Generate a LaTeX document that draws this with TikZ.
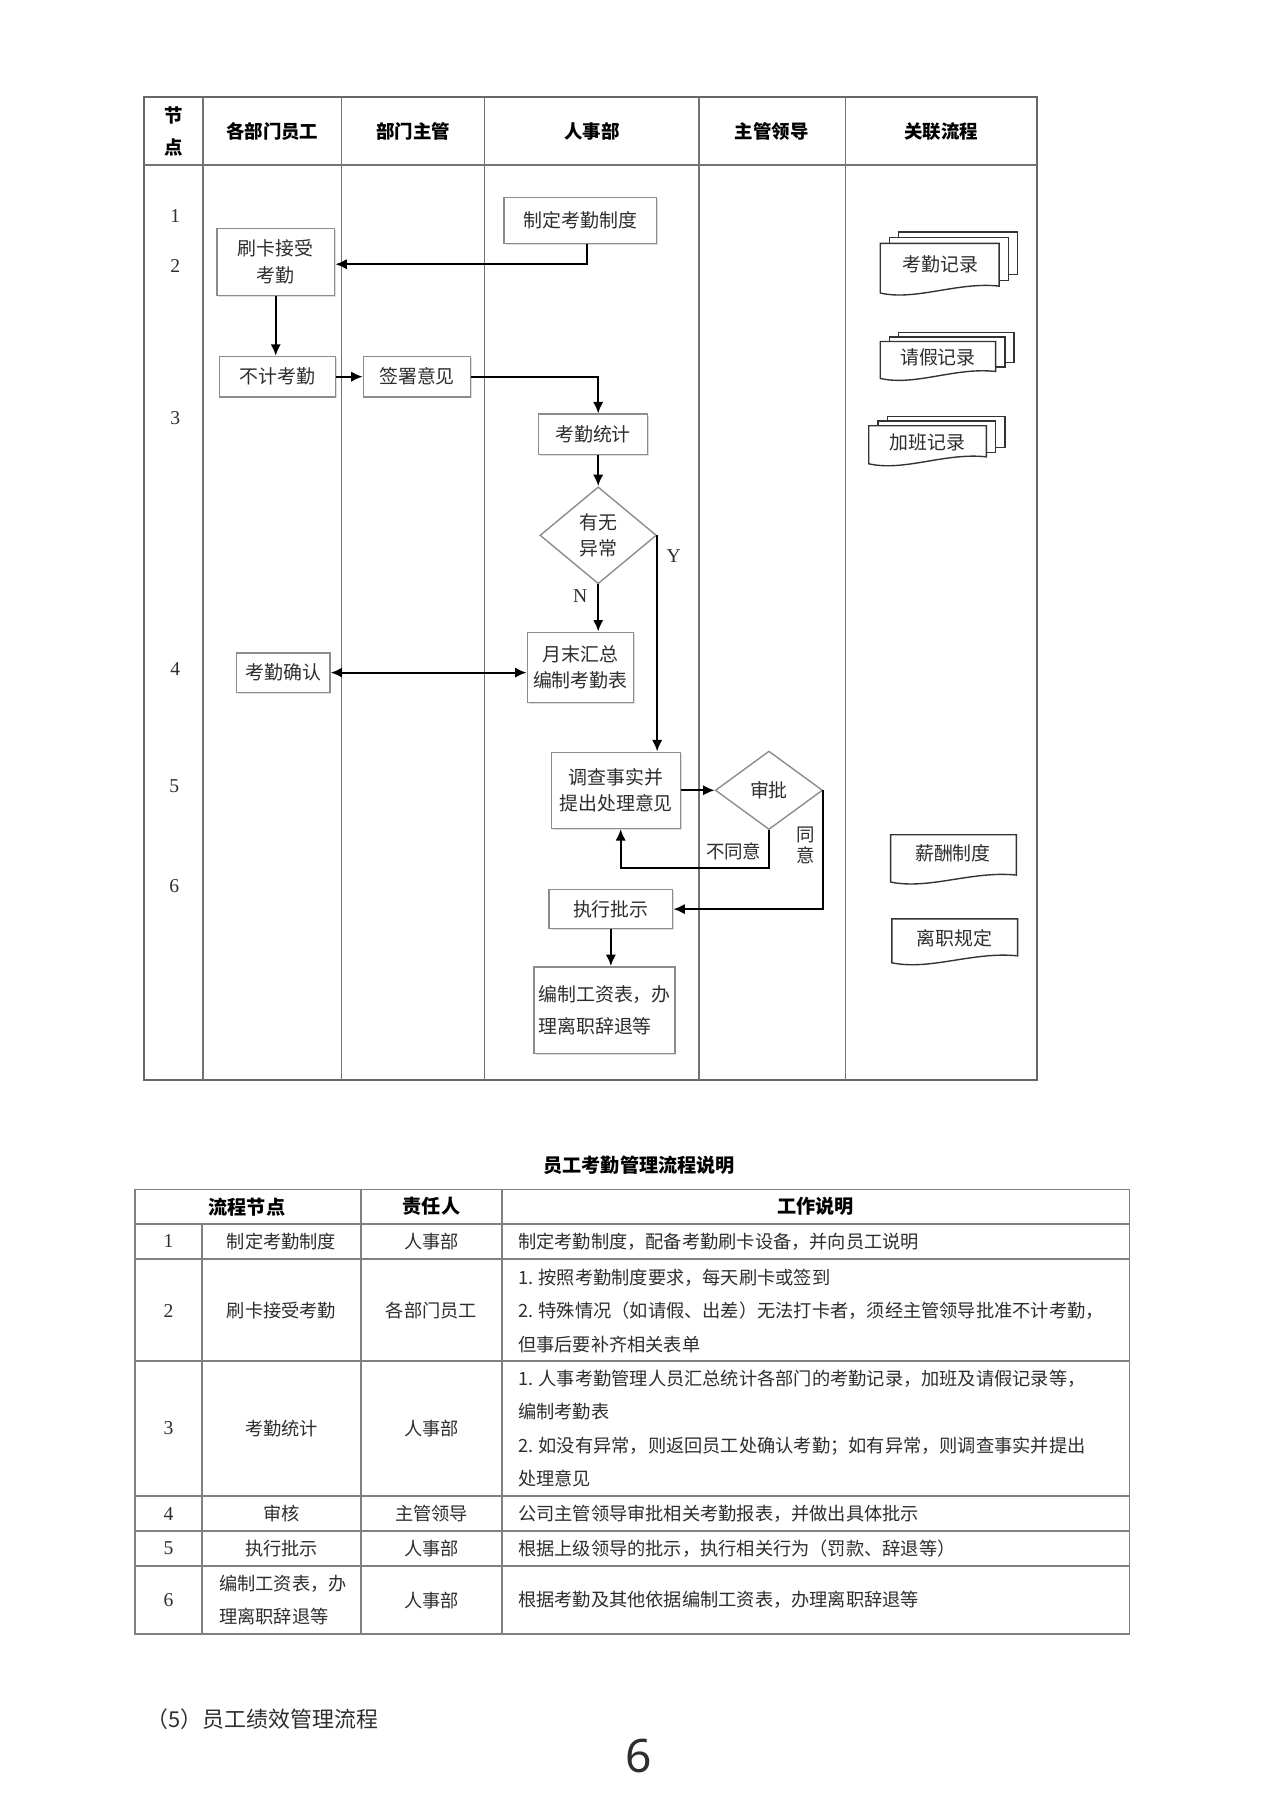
\documentclass[tikz,border=0pt]{standalone}
\usepackage{fontspec}
\setmainfont{Noto Sans CJK SC}
\newfontfamily\numfont{Liberation Serif}
\newfontfamily\pgfont{Noto Sans}
\usetikzlibrary{shapes.geometric,arrows.meta,shadows,calc}
\newcommand\docsheet[4]{\draw[docline] (#1,#2) -- ({#1+#3},#2) -- ({#1+#3},{#2+#4-6}) .. controls ({#1+0.65*#3},{#2+#4-10}) and ({#1+0.3*#3},{#2+#4+7}) .. (#1,{#2+#4}) -- cycle;}
\newcommand\backsheet[4]{\draw[docline] (#1,#2) rectangle ({#1+#3},{#2+#4-6});}
\begin{document}
\begin{tikzpicture}[x=0.5pt,y=-0.5pt,
  every node/.style={font=\fontsize{8pt}{10pt}\selectfont, text=black!82},
  box/.style={draw=black!45, line width=0.6pt, fill=white, inner sep=1pt, align=center,
    font=\fontsize{8.2pt}{11.5pt}\selectfont,
    drop shadow={shadow xshift=0.6pt,shadow yshift=-0.6pt,fill=black!25,opacity=0.5}},
  dia/.style={diamond, draw=black!45, line width=0.6pt, fill=white, inner sep=0pt, aspect=1.2, align=center,
    font=\fontsize{8.2pt}{11.5pt}\selectfont},
  arr/.style={-{Latex[length=5pt,width=4.5pt]}, line width=0.9pt, draw=black},
  darr/.style={{Latex[length=5pt,width=4.5pt]}-{Latex[length=5pt,width=4.5pt]}, line width=0.9pt, draw=black},
  lane/.style={draw=black!55, line width=0.6pt},
  frame/.style={draw=black!60, line width=0.8pt},
  tline/.style={draw=black!50, line width=0.8pt},
  hdr/.style={font=\bfseries\fontsize{8pt}{14pt}\selectfont, text=black},
  num/.style={font=\numfont\fontsize{8.5pt}{10pt}\selectfont},
  lbl/.style={font=\fontsize{8pt}{9pt}\selectfont, align=center},
  docline/.style={draw=black!80, line width=0.6pt, fill=white},
  doctext/.style={font=\fontsize{8.2pt}{10pt}\selectfont},
  tbody/.style={font=\fontsize{7.9pt}{14.5pt}\selectfont, align=left},
  tcell/.style={font=\fontsize{7.9pt}{14.5pt}\selectfont, align=center},
  thead/.style={font=\bfseries\fontsize{8.3pt}{10pt}\selectfont, text=black}
]
\useasboundingbox (0,0) rectangle (1109,1568);
\fill[white] (0,0) rectangle (1109,1568);

% ---------- swimlane frame ----------
\draw[frame] (125,84) rectangle (899,936);
\draw[lane] (125,143) -- (899,143);
\foreach \xx in {176,296,420,606,733} \draw[lane] (\xx,84) -- (\xx,936);

\node[hdr, align=center] (h0) at (150.5,114) {节\\点};
\node[hdr] (h1) at (236,114) {各部门员工};
\node[hdr] (h2) at (358,114) {部门主管};
\node[hdr] (h3) at (513,114) {人事部};
\node[hdr] (h4) at (669,114) {主管领导};
\node[hdr] (h5) at (816,114) {关联流程};

\node[num] (n1) at (152,187) {1};
\node[num] (n2) at (152,231) {2};
\node[num] (n3) at (152,362) {3};
\node[num] (n4) at (152,580) {4};
\node[num] (n5) at (151,681) {5};
\node[num] (n6) at (151,768) {6};

% ---------- process nodes ----------
\node[box, minimum width=66pt, minimum height=20pt] (zd) at (503,191) {制定考勤制度};
\node[box, minimum width=51pt, minimum height=29pt] (sk) at (239,227) {刷卡接受\\考勤};
\node[box, minimum width=50.5pt, minimum height=17.5pt] (bj) at (240.5,326.5) {不计考勤};
\node[box, minimum width=46.5pt, minimum height=17.5pt] (qs) at (361.5,326.5) {签署意见};
\node[box, minimum width=47pt, minimum height=17.5pt] (tj) at (514,376.5) {考勤统计};
\node[dia, minimum width=50.5pt, minimum height=42pt] (yc) at (518.5,464) {有无\\异常};
\node[box, minimum width=46pt, minimum height=30.5pt] (yy) at (503,578.5) {月末汇总\\编制考勤表};
\node[box, minimum width=40.5pt, minimum height=17pt] (qr) at (245.5,583) {考勤确认};
\node[box, minimum width=56pt, minimum height=33pt] (dc) at (534,685) {调查事实并\\提出处理意见};
\node[dia, minimum width=46.5pt, minimum height=34pt] (sp) at (666.5,685) {审批};
\node[box, minimum width=53.5pt, minimum height=17pt] (zx) at (529.5,788) {执行批示};
\node[box, minimum width=61pt, minimum height=37.5pt, align=left, font=\fontsize{8.2pt}{14pt}\selectfont] (bz) at (524,875.5) {编制工资表，办\\理离职辞退等};

% ---------- connectors ----------
\coordinate (c1) at (509,229);
\draw[arr] (zd.south -| c1) -- (c1) -- (c1 -| sk.east);
\draw[arr] (sk.south) -- (sk.south |- bj.north);
\draw[arr] (bj.east) -- (qs.west);
\draw[arr] (qs.east) -| (tj.north -| yc.north);
\draw[arr] (tj.south -| yc.north) -- (yc.north);
\draw[arr] (yc.south) -- (yc.south |- yy.north);
\node[num] (lN) at (503,517) {N};
\draw[arr] (yc.east) -- (yc.east |- dc.north);
\node[num] (lY) at (584,482) {Y};
\draw[darr] (qr.east) -- (qr.east -| yy.west);
\draw[arr] (dc.east) -- (sp.west);
\coordinate (c2) at (538,752);
\draw[arr] (sp.south) |- (c2) -- (c2 |- dc.south);
\node[lbl] (lno) at (636,738) {不同意};
\draw[arr] (sp.east) -- (sp.east |- zx.east) -- (zx.east);
\node[lbl] (lyes) at (698,733) {同\\意};
\draw[arr] (zx.south) -- (zx.south |- bz.north);

% ---------- related documents ----------
\backsheet{779}{201}{103}{43}
\backsheet{771}{206}{103}{43}
\docsheet{763}{211}{103}{43}
\node[doctext] (d1) at (815,229) {考勤记录};

\backsheet{779}{288}{100}{32}
\backsheet{771}{292}{100}{32}
\docsheet{763}{296}{100}{32}
\node[doctext] (d2) at (813,310) {请假记录};

\backsheet{769}{361}{102}{33}
\backsheet{761}{365}{102}{33}
\docsheet{753}{369}{102}{33}
\node[doctext] (d3) at (804,383) {加班记录};

\docsheet{772}{723.5}{109}{41}
\node[doctext] (d4) at (826,740) {薪酬制度};
\docsheet{773}{796.5}{109}{38}
\node[doctext] (d5) at (827,813) {离职规定};

% ---------- description table ----------
\node[thead] (tt) at (554,1010) {员工考勤管理流程说明};
\draw[tline] (117,1031) rectangle (979,1416);
\foreach \yy in {1061,1091,1180,1297,1327,1357} \draw[tline] (117,\yy) -- (979,\yy);
\draw[tline] (175,1061) -- (175,1416);
\draw[tline] (313,1031) -- (313,1416);
\draw[tline] (435,1031) -- (435,1416);

\node[thead] (th1) at (214,1046) {流程节点};
\node[thead] (th2) at (374,1046) {责任人};
\node[thead] (th3) at (707,1046) {工作说明};

\node[num] (r1a) at (146,1076) {1};
\node[tcell] (r1b) at (244,1076) {制定考勤制度};
\node[tcell] (r1c) at (374,1076) {人事部};
\node[tbody, anchor=west] (r1d) at (442,1076) {制定考勤制度，配备考勤刷卡设备，并向员工说明};

\node[num] (r2a) at (146,1136) {2};
\node[tcell] (r2b) at (244,1136) {刷卡接受考勤};
\node[tcell] (r2c) at (374,1136) {各部门员工};
\node[tbody, anchor=west] (r2d) at (442,1136) {1. 按照考勤制度要求，每天刷卡或签到\\2. 特殊情况（如请假、出差）无法打卡者，须经主管领导批准不计考勤，\\但事后要补齐相关表单};

\node[num] (r3a) at (146,1238) {3};
\node[tcell] (r3b) at (244,1238) {考勤统计};
\node[tcell] (r3c) at (374,1238) {人事部};
\node[tbody, anchor=west] (r3d) at (442,1238) {1. 人事考勤管理人员汇总统计各部门的考勤记录，加班及请假记录等，\\编制考勤表\\2. 如没有异常，则返回员工处确认考勤；如有异常，则调查事实并提出\\处理意见};

\node[num] (r4a) at (146,1312) {4};
\node[tcell] (r4b) at (244,1312) {审核};
\node[tcell] (r4c) at (374,1312) {主管领导};
\node[tbody, anchor=west] (r4d) at (442,1312) {公司主管领导审批相关考勤报表，并做出具体批示};

\node[num] (r5a) at (146,1342) {5};
\node[tcell] (r5b) at (244,1342) {执行批示};
\node[tcell] (r5c) at (374,1342) {人事部};
\node[tbody, anchor=west] (r5d) at (442,1342) {根据上级领导的批示，执行相关行为（罚款、辞退等）};

\node[num] (r6a) at (146,1387) {6};
\node[tbody, anchor=west] (r6b) at (183,1387) {编制工资表，办\\理离职辞退等};
\node[tcell] (r6c) at (374,1387) {人事部};
\node[tbody, anchor=west] (r6d) at (442,1387) {根据考勤及其他依据编制工资表，办理离职辞退等};

% ---------- footer ----------
\node[anchor=west, font=\fontsize{9.5pt}{11pt}\selectfont] (sec) at (120,1490) {（5）员工绩效管理流程};
\node[font=\pgfont\fontsize{20pt}{22pt}\selectfont] (pg) at (554,1522) {6};
\end{tikzpicture}
\end{document}
